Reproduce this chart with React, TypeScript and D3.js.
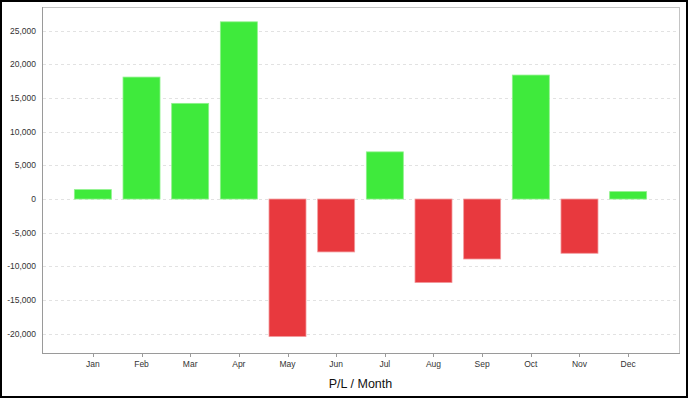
import { useRef, useEffect } from 'react';
import * as d3 from 'd3';

const months = ['Jan', 'Feb', 'Mar', 'Apr', 'May', 'Jun', 'Jul', 'Aug', 'Sep', 'Oct', 'Nov', 'Dec'];
const profit = [1400, 18100, 14200, 26300, -20400, -7850, 7000, -12400, -8900, 18400, -8050, 1100];
const yTicks = [-20000, -15000, -10000, -5000, 0, 5000, 10000, 15000, 20000, 25000];

const W = 688;
const H = 398;
const margin = { top: 7, right: 9, bottom: 45, left: 42 };

const App = () => {
  const svgRef = useRef<SVGSVGElement | null>(null);

  useEffect(() => {
    const svg = d3.select(svgRef.current);
    svg.selectAll('*').remove();

    const x0 = margin.left;
    const x1 = W - margin.right;
    const y0 = margin.top;
    const y1 = H - margin.bottom;

    const xScale = d3.scalePoint<string>().domain(months).range([x0, x1]).padding(1.045);
    const yScale = d3.scaleLinear().domain([-22850, 28500]).range([y1, y0]);
    const barW = 37;
    const fmt = d3.format(',');

    // outer frame
    svg.append('rect')
      .attr('x', 1).attr('y', 1)
      .attr('width', W - 2).attr('height', H - 2)
      .attr('fill', '#fff').attr('stroke', '#000').attr('stroke-width', 2);

    // plot border
    svg.append('rect')
      .attr('x', x0 + 0.5).attr('y', y0 + 0.5)
      .attr('width', x1 - x0).attr('height', y1 - y0)
      .attr('fill', 'none').attr('stroke', '#c4c4c4');

    // grid lines
    svg.selectAll('.grid')
      .data(yTicks)
      .join('line')
      .attr('class', 'grid')
      .attr('x1', x0 + 1).attr('x2', x1)
      .attr('y1', (d) => Math.round(yScale(d)) + 0.5)
      .attr('y2', (d) => Math.round(yScale(d)) + 0.5)
      .attr('stroke', '#e2e2e2')
      .attr('stroke-dasharray', '3,3');

    // bars
    svg.selectAll('.bar')
      .data(profit)
      .join('rect')
      .attr('class', 'bar')
      .attr('x', (d, i) => (xScale(months[i]) as number) - barW / 2)
      .attr('y', (d) => yScale(Math.max(0, d)))
      .attr('width', barW)
      .attr('height', (d) => Math.abs(yScale(d) - yScale(0)))
      .attr('fill', (d) => (d >= 0 ? '#3fea3c' : '#e8393e'))
      .attr('stroke', (d) => (d >= 0 ? '#8ff28c' : '#f29a9c'))
      .attr('stroke-width', 0.8);

    // axis lines
    svg.append('line')
      .attr('x1', x0 + 0.5).attr('x2', x0 + 0.5)
      .attr('y1', y0).attr('y2', y1 + 1)
      .attr('stroke', '#9a9a9a');
    svg.append('line')
      .attr('x1', x0).attr('x2', x1 + 1)
      .attr('y1', y1 + 0.5).attr('y2', y1 + 0.5)
      .attr('stroke', '#9a9a9a');

    // x ticks and labels
    svg.selectAll('.xtick')
      .data(months)
      .join('line')
      .attr('class', 'xtick')
      .attr('x1', (d) => Math.round(xScale(d) as number) + 0.5)
      .attr('x2', (d) => Math.round(xScale(d) as number) + 0.5)
      .attr('y1', y1 + 1).attr('y2', y1 + 4)
      .attr('stroke', '#9a9a9a');

    svg.selectAll('.xlabel')
      .data(months)
      .join('text')
      .attr('class', 'xlabel')
      .attr('x', (d) => xScale(d) as number)
      .attr('y', y1 + 14)
      .attr('text-anchor', 'middle')
      .attr('font-family', 'Liberation Sans, Arial, sans-serif')
      .attr('font-size', 8.5)
      .attr('fill', '#333')
      .text((d) => d);

    // y labels
    svg.selectAll('.ylabel')
      .data(yTicks)
      .join('text')
      .attr('class', 'ylabel')
      .attr('x', x0 - 6)
      .attr('y', (d) => yScale(d) + 3)
      .attr('text-anchor', 'end')
      .attr('font-family', 'Liberation Sans, Arial, sans-serif')
      .attr('font-size', 8.5)
      .attr('fill', '#333')
      .text((d) => fmt(d).replace('−', '-'));

    // axis title
    svg.append('text')
      .attr('x', (x0 + x1) / 2)
      .attr('y', 388)
      .attr('text-anchor', 'middle')
      .attr('font-family', 'Liberation Sans, Arial, sans-serif')
      .attr('font-size', 12.5)
      .attr('fill', '#111')
      .text('P/L / Month');
  }, []);

  return (
    <svg
      ref={svgRef}
      width={W}
      height={H}
      style={{ position: 'absolute', left: 0, top: 0, display: 'block' }}
    ></svg>
  );
};

export default App;
